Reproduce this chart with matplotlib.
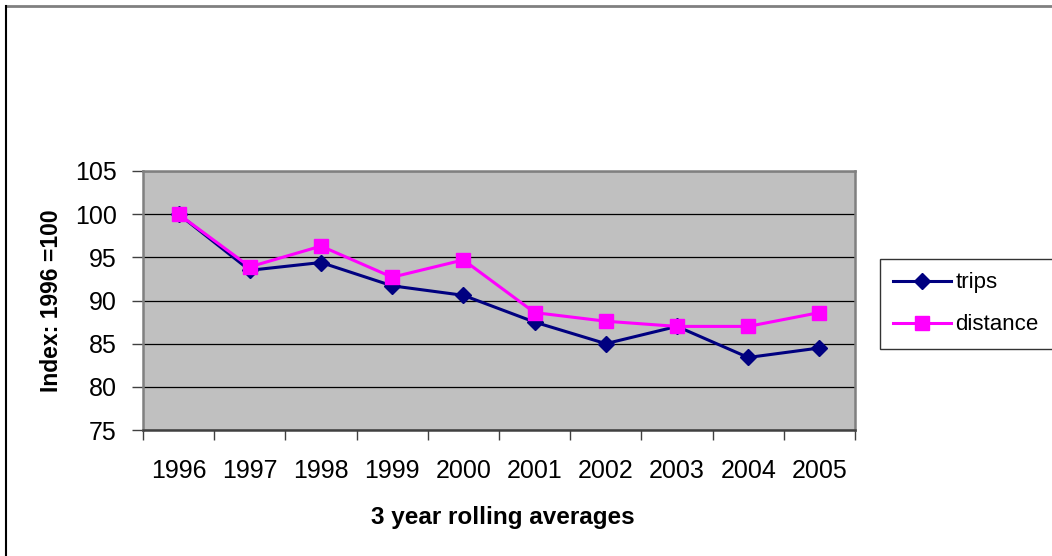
import matplotlib.pyplot as plt
from matplotlib.lines import Line2D

plt.rcParams['font.family'] = ['Liberation Sans', 'DejaVu Sans']

# данные
years = ['1996', '1997', '1998', '1999', '2000', '2001', '2002', '2003', '2004', '2005']
trips = [100.0, 93.5, 94.4, 91.7, 90.6, 87.5, 85.0, 87.0, 83.4, 84.5]
distance = [100.0, 93.9, 96.3, 92.7, 94.7, 88.6, 87.6, 87.0, 87.0, 88.6]

fig = plt.figure(figsize=(10.52, 5.56), dpi=100)
ax = fig.add_axes([143 / 1052, 1 - 430 / 556, 712 / 1052, 259 / 556])
ax.set_facecolor('#c0c0c0')

x = list(range(len(years)))
ax.plot(x, trips, color='#000080', marker='D', markersize=8, linewidth=2.2, label='trips')
ax.plot(x, distance, color='#ff00ff', marker='s', markersize=9.5, linewidth=2.2, label='distance')

ax.set_xlim(-0.5, len(years) - 0.5)
ax.set_ylim(75, 105)
ax.set_yticks(range(75, 106, 5))
ax.yaxis.grid(True, color='black', linewidth=0.9)
ax.set_axisbelow(True)

ax.set_xticks(x)
ax.set_xticklabels(years)
ax.set_xticks([i - 0.5 for i in range(len(years) + 1)], minor=True)
ax.tick_params(axis='x', which='major', length=0, pad=21, labelsize=18)
ax.tick_params(axis='x', which='minor', length=7, width=1, color='#404040', direction='out')
ax.tick_params(axis='y', length=8, width=1, color='#404040', pad=11, labelsize=18)

for side in ['left', 'top', 'right']:
    ax.spines[side].set_color('#808080')
    ax.spines[side].set_linewidth(1.8)
ax.spines['bottom'].set_color('#404040')
ax.spines['bottom'].set_linewidth(1.8)

ax.set_ylabel('Index: 1996 =100', fontsize=16.5, fontweight='bold')
ax.yaxis.label.set_va('center')
ax.yaxis.set_label_coords(-0.1285, 0.5)
ax.set_xlabel('3 year rolling averages', fontsize=17.5, fontweight='bold')
ax.xaxis.label.set_va('center')
ax.xaxis.set_label_coords(0.505, -0.336)

leg = ax.legend(loc='upper left', bbox_to_anchor=(880 / 1052, 1 - 259 / 556, 190 / 1052, 0),
                bbox_transform=fig.transFigure, mode='expand', frameon=True, fancybox=False,
                edgecolor='black', fontsize=16, handlelength=2.6, borderpad=0.6,
                labelspacing=0.95, handletextpad=0.2, borderaxespad=0)
leg.get_frame().set_linewidth(1.0)

# рамка диаграммы
fig.add_artist(Line2D([6 / 1052, 1], [1 - 6 / 556, 1 - 6 / 556], color='#808080', linewidth=2))
fig.add_artist(Line2D([6 / 1052, 6 / 1052], [0, 1 - 6 / 556], color='black', linewidth=1.5))

fig.savefig('out.png', dpi=100)
